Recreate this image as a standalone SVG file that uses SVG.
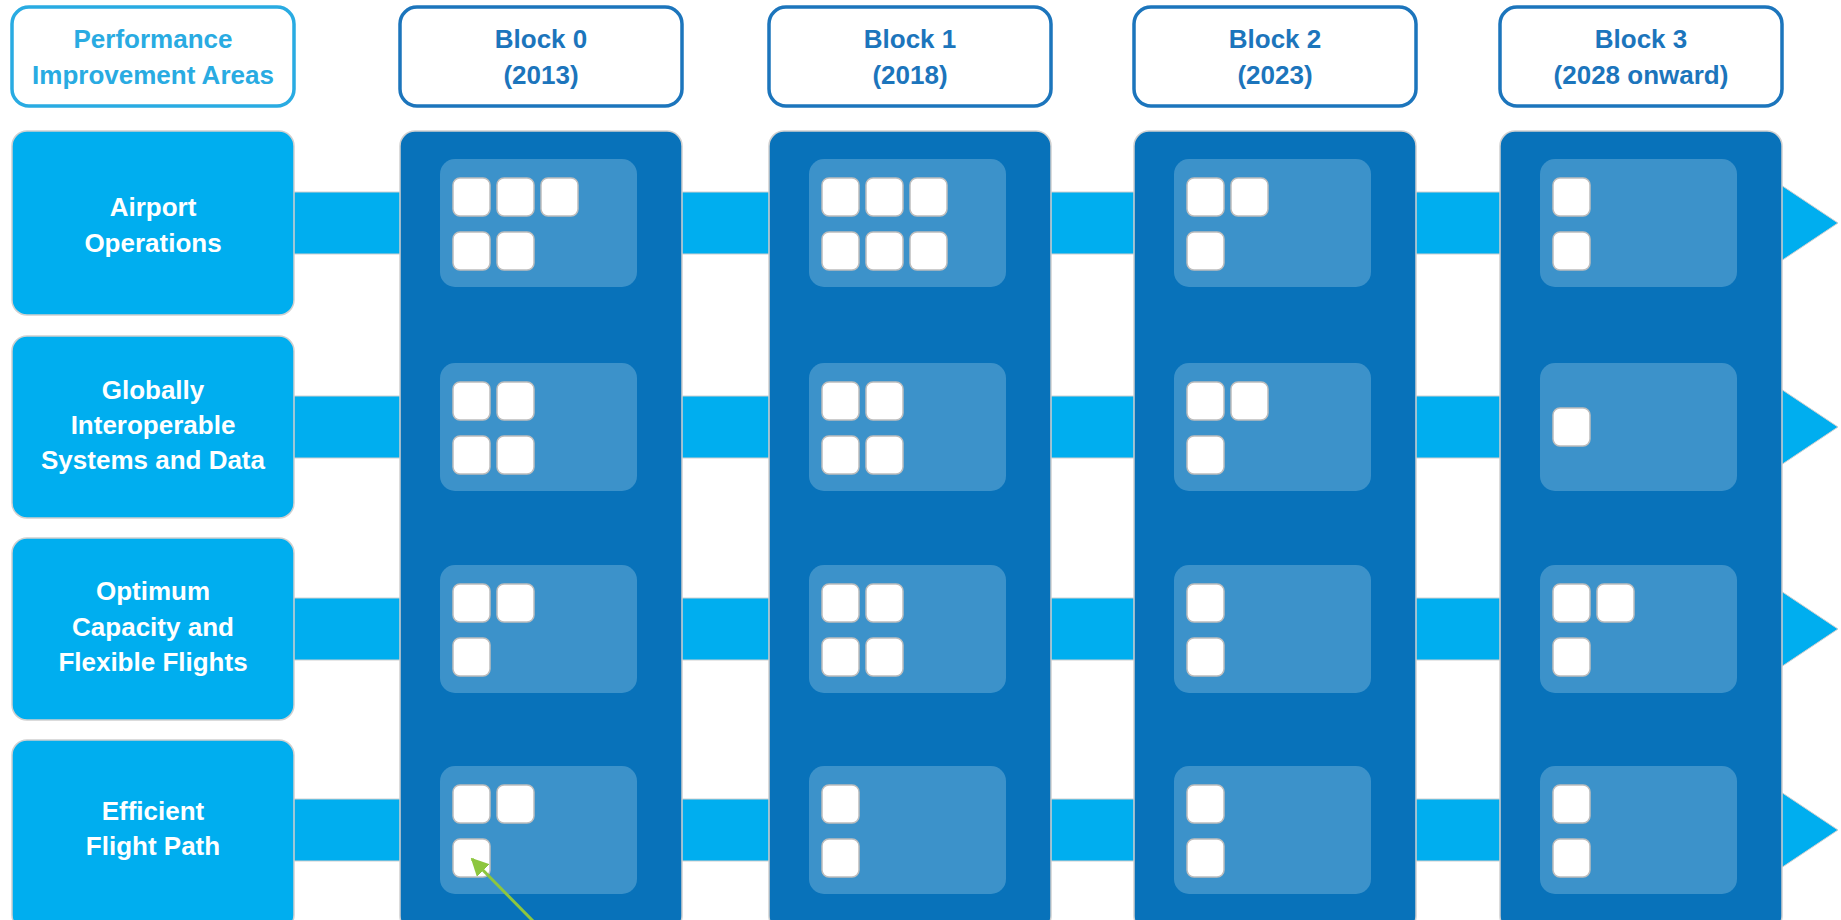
<svg xmlns="http://www.w3.org/2000/svg" width="1841" height="920" viewBox="0 0 1841 920">
<defs>
<style>
.hdr{fill:#ffffff;stroke-width:3.5}
.hp{stroke:#29abe2}
.hb{stroke:#1c75bc}
.ht{font-family:"Liberation Sans",Arial,sans-serif;font-weight:bold;font-size:26px;text-anchor:middle}
.tp{fill:#29abe2}
.tb{fill:#1c75bc}
.rowbox{fill:#00aeef;stroke:#d0d0d0;stroke-width:1.5}
.rt{font-family:"Liberation Sans",Arial,sans-serif;font-weight:bold;font-size:26px;text-anchor:middle;fill:#ffffff}
.band{fill:#00aeef;stroke:#d0d0d0;stroke-width:1}
.col{fill:#0872ba;stroke:#d0d0d0;stroke-width:1.5}
.panel{fill:#3c92ca}
.sq{fill:#ffffff;stroke:#bdbdbd;stroke-width:1.5}
</style>
<marker id="garr" viewBox="0 0 10 10" refX="9" refY="5" markerWidth="6" markerHeight="6" orient="auto-start-reverse" markerUnits="strokeWidth">
<path d="M0,0 L10,5 L0,10 z" fill="#8dc63f"/>
</marker>
</defs>

<g id="connectors">
<polygon class="band" points="290,192 1781,192 1781,185 1838,223 1781,261 1781,254 290,254"/>
<polygon class="band" points="290,396 1781,396 1781,389 1838,427 1781,465 1781,458 290,458"/>
<polygon class="band" points="290,598 1781,598 1781,591 1838,629 1781,667 1781,660 290,660"/>
<polygon class="band" points="290,799 1781,799 1781,792 1838,830 1781,868 1781,861 290,861"/>
</g>

<g id="header-areas"><rect class="hdr hp" x="12" y="7" width="282" height="99" rx="17"/><text class="ht tp" x="153" y="48">Performance</text><text class="ht tp" x="153" y="84">Improvement Areas</text></g>
<g id="header-block0"><rect class="hdr hb" x="400" y="7" width="282" height="99" rx="17"/><text class="ht tb" x="541" y="48">Block 0</text><text class="ht tb" x="541" y="84">(2013)</text></g>
<g id="header-block1"><rect class="hdr hb" x="769" y="7" width="282" height="99" rx="17"/><text class="ht tb" x="910" y="48">Block 1</text><text class="ht tb" x="910" y="84">(2018)</text></g>
<g id="header-block2"><rect class="hdr hb" x="1134" y="7" width="282" height="99" rx="17"/><text class="ht tb" x="1275" y="48">Block 2</text><text class="ht tb" x="1275" y="84">(2023)</text></g>
<g id="header-block3"><rect class="hdr hb" x="1500" y="7" width="282" height="99" rx="17"/><text class="ht tb" x="1641" y="48">Block 3</text><text class="ht tb" x="1641" y="84">(2028 onward)</text></g>

<g id="row-airport"><rect class="rowbox" x="12" y="131" width="282" height="184" rx="15"/><text class="rt" x="153" y="216">Airport</text><text class="rt" x="153" y="252">Operations</text></g>
<g id="row-systems"><rect class="rowbox" x="12" y="336" width="282" height="182" rx="15"/><text class="rt" x="153" y="399">Globally</text><text class="rt" x="153" y="434">Interoperable</text><text class="rt" x="153" y="469">Systems and Data</text></g>
<g id="row-capacity"><rect class="rowbox" x="12" y="538" width="282" height="182" rx="15"/><text class="rt" x="153" y="600">Optimum</text><text class="rt" x="153" y="636">Capacity and</text><text class="rt" x="153" y="671">Flexible Flights</text></g>
<g id="row-flightpath"><rect class="rowbox" x="12" y="740" width="282" height="190" rx="15"/><text class="rt" x="153" y="820">Efficient</text><text class="rt" x="153" y="855">Flight Path</text></g>

<g id="block0">
<rect class="col" x="400" y="131" width="282" height="800" rx="15"/>
<rect class="panel" x="440" y="159" width="197" height="128" rx="15"/>
<rect class="panel" x="440" y="363" width="197" height="128" rx="15"/>
<rect class="panel" x="440" y="565" width="197" height="128" rx="15"/>
<rect class="panel" x="440" y="766" width="197" height="128" rx="15"/>
<rect class="sq" x="453" y="178" width="37" height="38" rx="7"/><rect class="sq" x="497" y="178" width="37" height="38" rx="7"/><rect class="sq" x="541" y="178" width="37" height="38" rx="7"/>
<rect class="sq" x="453" y="232" width="37" height="38" rx="7"/><rect class="sq" x="497" y="232" width="37" height="38" rx="7"/>
<rect class="sq" x="453" y="382" width="37" height="38" rx="7"/><rect class="sq" x="497" y="382" width="37" height="38" rx="7"/>
<rect class="sq" x="453" y="436" width="37" height="38" rx="7"/><rect class="sq" x="497" y="436" width="37" height="38" rx="7"/>
<rect class="sq" x="453" y="584" width="37" height="38" rx="7"/><rect class="sq" x="497" y="584" width="37" height="38" rx="7"/>
<rect class="sq" x="453" y="638" width="37" height="38" rx="7"/>
<rect class="sq" x="453" y="785" width="37" height="38" rx="7"/><rect class="sq" x="497" y="785" width="37" height="38" rx="7"/>
<rect class="sq" x="453" y="839" width="37" height="38" rx="7"/>
</g>

<g id="block1">
<rect class="col" x="769" y="131" width="282" height="800" rx="15"/>
<rect class="panel" x="809" y="159" width="197" height="128" rx="15"/>
<rect class="panel" x="809" y="363" width="197" height="128" rx="15"/>
<rect class="panel" x="809" y="565" width="197" height="128" rx="15"/>
<rect class="panel" x="809" y="766" width="197" height="128" rx="15"/>
<rect class="sq" x="822" y="178" width="37" height="38" rx="7"/><rect class="sq" x="866" y="178" width="37" height="38" rx="7"/><rect class="sq" x="910" y="178" width="37" height="38" rx="7"/>
<rect class="sq" x="822" y="232" width="37" height="38" rx="7"/><rect class="sq" x="866" y="232" width="37" height="38" rx="7"/><rect class="sq" x="910" y="232" width="37" height="38" rx="7"/>
<rect class="sq" x="822" y="382" width="37" height="38" rx="7"/><rect class="sq" x="866" y="382" width="37" height="38" rx="7"/>
<rect class="sq" x="822" y="436" width="37" height="38" rx="7"/><rect class="sq" x="866" y="436" width="37" height="38" rx="7"/>
<rect class="sq" x="822" y="584" width="37" height="38" rx="7"/><rect class="sq" x="866" y="584" width="37" height="38" rx="7"/>
<rect class="sq" x="822" y="638" width="37" height="38" rx="7"/><rect class="sq" x="866" y="638" width="37" height="38" rx="7"/>
<rect class="sq" x="822" y="785" width="37" height="38" rx="7"/>
<rect class="sq" x="822" y="839" width="37" height="38" rx="7"/>
</g>

<g id="block2">
<rect class="col" x="1134" y="131" width="282" height="800" rx="15"/>
<rect class="panel" x="1174" y="159" width="197" height="128" rx="15"/>
<rect class="panel" x="1174" y="363" width="197" height="128" rx="15"/>
<rect class="panel" x="1174" y="565" width="197" height="128" rx="15"/>
<rect class="panel" x="1174" y="766" width="197" height="128" rx="15"/>
<rect class="sq" x="1187" y="178" width="37" height="38" rx="7"/><rect class="sq" x="1231" y="178" width="37" height="38" rx="7"/>
<rect class="sq" x="1187" y="232" width="37" height="38" rx="7"/>
<rect class="sq" x="1187" y="382" width="37" height="38" rx="7"/><rect class="sq" x="1231" y="382" width="37" height="38" rx="7"/>
<rect class="sq" x="1187" y="436" width="37" height="38" rx="7"/>
<rect class="sq" x="1187" y="584" width="37" height="38" rx="7"/>
<rect class="sq" x="1187" y="638" width="37" height="38" rx="7"/>
<rect class="sq" x="1187" y="785" width="37" height="38" rx="7"/>
<rect class="sq" x="1187" y="839" width="37" height="38" rx="7"/>
</g>

<g id="block3">
<rect class="col" x="1500" y="131" width="282" height="800" rx="15"/>
<rect class="panel" x="1540" y="159" width="197" height="128" rx="15"/>
<rect class="panel" x="1540" y="363" width="197" height="128" rx="15"/>
<rect class="panel" x="1540" y="565" width="197" height="128" rx="15"/>
<rect class="panel" x="1540" y="766" width="197" height="128" rx="15"/>
<rect class="sq" x="1553" y="178" width="37" height="38" rx="7"/>
<rect class="sq" x="1553" y="232" width="37" height="38" rx="7"/>
<rect class="sq" x="1553" y="408" width="37" height="38" rx="7"/>
<rect class="sq" x="1553" y="584" width="37" height="38" rx="7"/><rect class="sq" x="1597" y="584" width="37" height="38" rx="7"/>
<rect class="sq" x="1553" y="638" width="37" height="38" rx="7"/>
<rect class="sq" x="1553" y="785" width="37" height="38" rx="7"/>
<rect class="sq" x="1553" y="839" width="37" height="38" rx="7"/>
</g>

<g id="pointer">
<line x1="534" y1="922" x2="472" y2="859" stroke="#8dc63f" stroke-width="3" marker-end="url(#garr)"/>
</g>
</svg>
